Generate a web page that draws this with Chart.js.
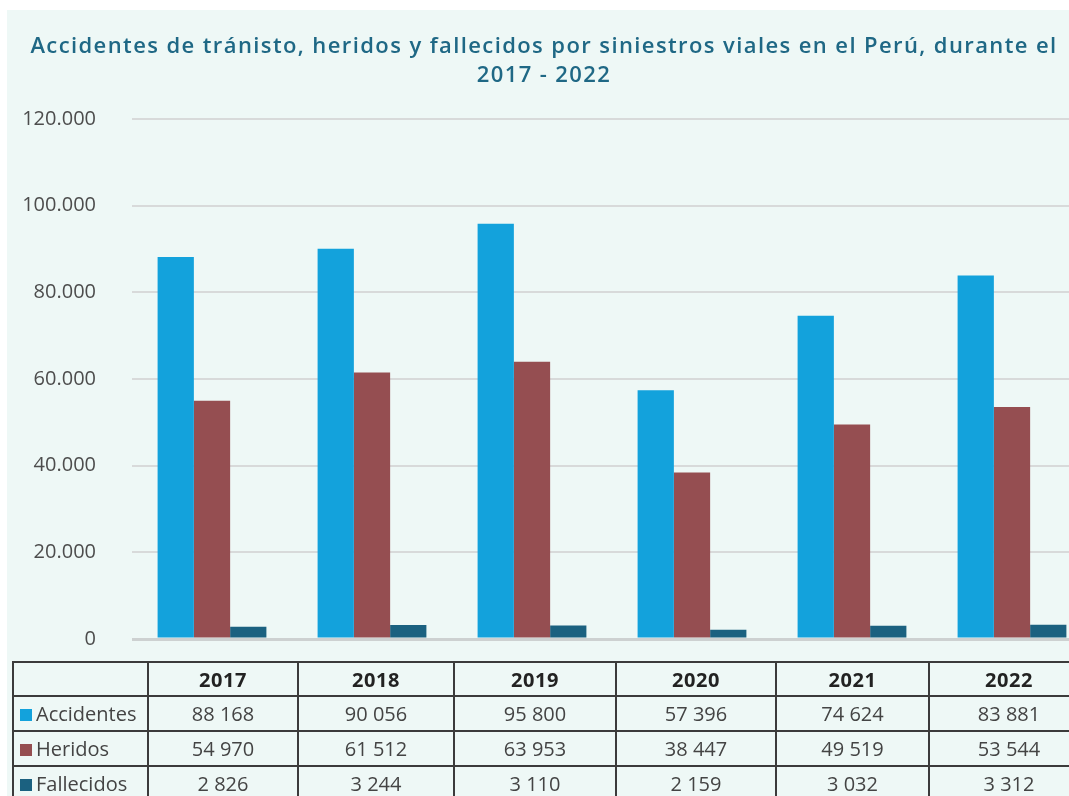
<!DOCTYPE html>
<html>
<head>
<meta charset="utf-8">
<script src="https://cdn.jsdelivr.net/npm/chart.js@4.4.1/dist/chart.umd.min.js"></script>
<style>
  body { margin: 0; background: #fff; overflow: hidden; width: 1069px; height: 796px; }
  #panel { position: absolute; left: 7px; top: 10px; width: 1100px; height: 800px; background: #eef8f6; overflow: hidden; }
  #title {
    position: absolute; left: 0; top: 20px; width: 1074px; text-align: center;
    font-family: 'Open Sans', sans-serif; font-weight: 600; font-size: 22px; letter-spacing: 1.4px;
    line-height: 29px; color: #1f6885;
  }
  #chartBox { position: absolute; left: 0; top: 0; width: 1085px; height: 677px; }
  #dataTable {
    position: absolute; left: 5px; top: 651px;
    border-collapse: collapse; table-layout: fixed;
    font-family: 'Open Sans', sans-serif; font-size: 20px; color: #444;
  }
  #dataTable td { border: 2px solid #3b3b3b; text-align: center; padding: 0; }
  #dataTable tr { height: 35px; }
  #dataTable tr.head { height: 34px; }
  #dataTable tr.head td { font-weight: bold; color: #222; letter-spacing: 0.6px; }
  #dataTable td.label { text-align: left; padding-left: 6px; white-space: nowrap; }
  .swatch { display: inline-block; width: 12px; height: 12px; margin-right: 4px; vertical-align: 0px; }
</style>
</head>
<body>
<div id="panel">
  <div id="chartBox"><canvas id="chart"></canvas></div>
  <div id="title"></div>
  <table id="dataTable"></table>
</div>
<script>
const years = ['2017', '2018', '2019', '2020', '2021', '2022'];
const accidentes = [88168, 90056, 95800, 57396, 74624, 83881];
const heridos = [54970, 61512, 63953, 38447, 49519, 53544];
const fallecidos = [2826, 3244, 3110, 2159, 3032, 3312];
const seriesNames = ['Accidentes', 'Heridos', 'Fallecidos'];
const seriesColors = ['#13a2dc', '#954e51', '#1b6180'];
const yMax = 120000;
const yStep = 20000;

const titleLines = [
    'Accidentes de tránisto, heridos y fallecidos por siniestros viales en el Perú, durante el',
    '2017 - 2022'
];

const allSeries = [accidentes, heridos, fallecidos];

function fmtSpace(n) {
    return String(n).replace(/\B(?=(\d{3})+(?!\d))/g, ' ');
}

document.getElementById('title').innerHTML = titleLines.join('<br>');

// data table under the chart
const colWidths = [135, 150, 156, 162, 160, 153, 160];
const table = document.getElementById('dataTable');
const colgroup = document.createElement('colgroup');
colWidths.forEach(w => {
    const c = document.createElement('col');
    c.style.width = w + 'px';
    colgroup.appendChild(c);
});
table.appendChild(colgroup);

const head = document.createElement('tr');
head.className = 'head';
head.appendChild(document.createElement('td'));
years.forEach(y => {
    const td = document.createElement('td');
    td.textContent = y;
    head.appendChild(td);
});
table.appendChild(head);

allSeries.forEach((values, i) => {
    const tr = document.createElement('tr');
    const label = document.createElement('td');
    label.className = 'label';
    label.innerHTML = '<span class="swatch" style="background:' + seriesColors[i] + '"></span>' + seriesNames[i];
    tr.appendChild(label);
    values.forEach(v => {
        const td = document.createElement('td');
        td.textContent = fmtSpace(v);
        tr.appendChild(td);
    });
    table.appendChild(tr);
});

const ctx = document.getElementById('chart').getContext('2d');
new Chart(ctx, {
    type: 'bar',
    data: {
        labels: years,
        datasets: allSeries.map((values, i) => ({
            label: seriesNames[i],
            data: values,
            backgroundColor: seriesColors[i],
            borderWidth: 0,
            categoryPercentage: 0.68,
            barPercentage: 1
        }))
    },
    options: {
        responsive: true,
        maintainAspectRatio: false,
        animation: false,
        layout: { padding: { left: 0, right: 0, top: 109, bottom: 10 } },
        plugins: {
            legend: { display: false },
            tooltip: { enabled: false }
        },
        scales: {
            x: { display: false },
            y: {
                min: 0,
                max: yMax,
                ticks: {
                    stepSize: yStep,
                    padding: 36,
                    color: '#4d4d4d',
                    font: { family: 'Open Sans', size: 20 },
                    callback: v => v.toLocaleString('de-DE')
                },
                grid: {
                    drawTicks: false,
                    color: c => c.tick && c.tick.value === 0 ? '#cdd1d1' : '#d8dada',
                    lineWidth: c => c.tick && c.tick.value === 0 ? 3 : 2
                },
                border: { display: false },
                afterFit(scale) { scale.width = 125; }
            }
        }
    }
});
</script>
</body>
</html>
